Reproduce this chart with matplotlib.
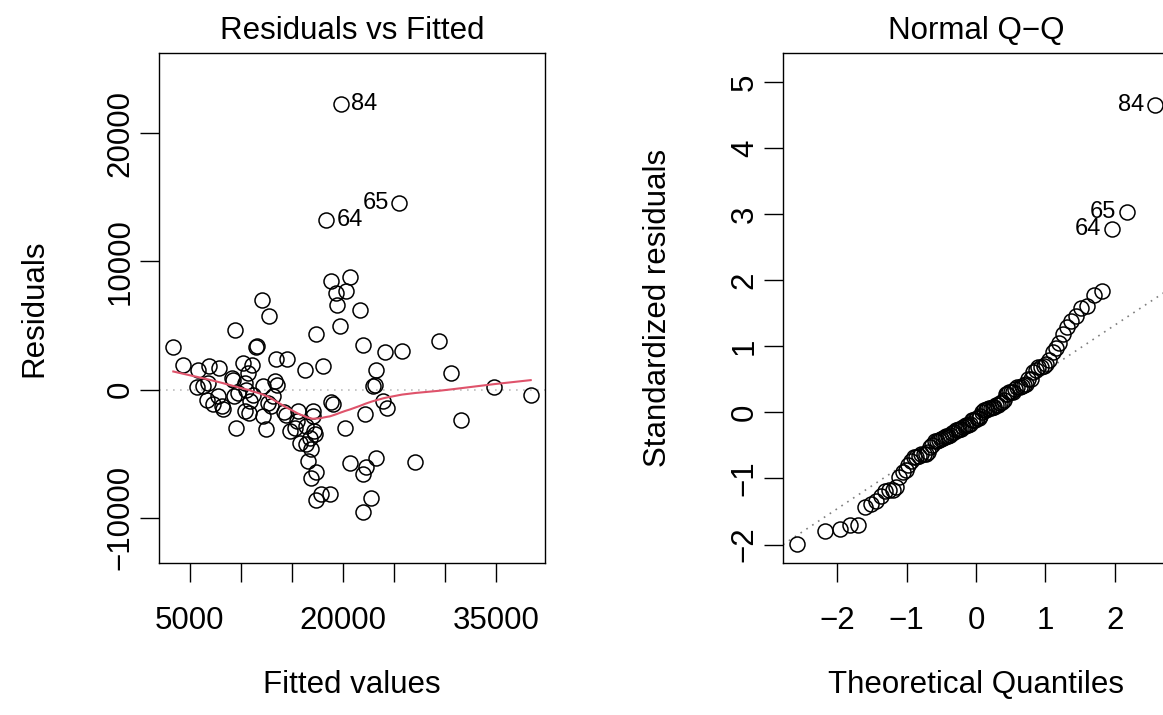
import math
import numpy as np
import matplotlib
matplotlib.use("Agg")
import matplotlib.pyplot as plt

# ---------------- data ----------------
fitted = [
    3370, 4350, 5820, 6890, 7870, 5650, 6310, 6800, 6630, 7770,
    8100, 8260, 9080, 9240, 9410, 9500, 9310, 9730, 10160, 10390,
    10480, 10710, 11040, 10390, 10810, 10880, 11200, 11460, 11530, 12020,
    12740, 12180, 12180, 12440, 12670, 12900, 13160, 13320, 13490, 13420,
    14530, 14240, 14400, 14790, 15280, 15610, 15450, 15770, 16260, 16360,
    16420, 16590, 16750, 16910, 16910, 17080, 17080, 17140, 17240, 17340,
    17400, 17340, 17800, 18380, 25500, 18060, 18710, 18870, 18870, 19040,
    19360, 19430, 19690, 20180, 20280, 20670, 20670, 21710, 21970, 21970,
    21970, 22140, 22230, 19790, 22790, 22950, 23150, 23210, 23210, 23930,
    24090, 24320, 25790, 27100, 29380, 30620, 31540, 34770, 38390, 7290,
]
residuals = [
    3300, 1900, 1510, 1870, 1690, 210, 260, 520, -830, -520,
    -1300, -1510, 910, 780, 4670, -2990, -520, -260, 2080, 520,
    0, 1300, 1950, -1640, -1820, -910, -390, 3300, 3380, 6960,
    5710, 310, -2080, -3120, -1040, -1300, -520, 700, 390, 2420,
    2420, -1770, -2000, -3250, -2990, -1690, -2470, -4160, 1510, -2860,
    -4290, -5580, -3770, -4670, -6880, -1690, -2080, -3250, -3510, 4360,
    -6440, -8600, -8180, 13250, 14540, 1820, -8130, 8490, -990, -1170,
    7530, 6620, 4990, -2990, 7710, 8780, -5710, 6180, 3510, -6620,
    -9530, -1900, -6030, 22260, -8450, 310, 390, 1510, -5380, -910,
    2910, -1430, 3040, -5640, 3790, 1300, -2390, 210, -390, -1170,
]
resid_se = 4780          # residual scale used for the standardized residuals
n_label = 3              # number of extreme points labelled (id.n)

fit_ticks = [5000, 10000, 15000, 20000, 25000, 30000, 35000]
fit_ticklabels = ["5000", "", "", "20000", "", "", "35000"]
res_ticks = [-10000, 0, 10000, 20000]
qx_ticks = [-2, -1, 0, 1, 2]
qy_ticks = [-2, -1, 0, 1, 2, 3, 4, 5]

# ---------------- helpers ----------------
def qnorm(p):
    lo, hi = -10.0, 10.0
    for _ in range(80):
        mid = 0.5 * (lo + hi)
        if 0.5 * (1 + math.erf(mid / math.sqrt(2))) < p:
            lo = mid
        else:
            hi = mid
    return 0.5 * (lo + hi)


def lowess(x, y, f=2 / 3, iters=3):
    x = np.asarray(x, float)
    y = np.asarray(y, float)
    o = np.argsort(x, kind="mergesort")
    x, y = x[o], y[o]
    n = len(x)
    ns = max(min(int(f * n + 1e-7), n), 2)
    rw = np.ones(n)
    ys = np.zeros(n)
    rng = x[-1] - x[0]
    for it in range(iters + 1):
        for i in range(n):
            d = np.abs(x - x[i])
            h = np.sort(d)[ns - 1]
            w = np.zeros(n)
            m = d <= 0.999 * h
            w[m] = np.where(d[m] <= 0.001 * h, 1.0, (1 - (d[m] / h) ** 3) ** 3)
            w = w * rw
            if w.sum() <= 0:
                ys[i] = y[i]
                continue
            w = w / w.sum()
            if h > 0:
                a = np.sum(w * x)
                b = x[i] - a
                c = np.sum(w * (x - a) ** 2)
                if np.sqrt(c) > 0.001 * rng:
                    b = b / c
                    w = w * (b * (x - a) + 1)
            ys[i] = np.sum(w * y)
        res = y - ys
        if it == iters:
            break
        cmad = 6 * np.median(np.abs(res))
        if cmad < 1e-7 * np.mean(np.abs(y)):
            break
        r = np.abs(res)
        rw = np.where(r <= 0.001 * cmad, 1.0,
                      np.where(r <= 0.999 * cmad, (1 - (r / cmad) ** 2) ** 2, 0.0))
    return x, ys


def rlim(lo, hi):
    d = (hi - lo) * 0.04
    return lo - d, hi + d


# ---------------- figure ----------------
plt.rcParams["font.family"] = ["Liberation Sans", "DejaVu Sans"]
FS = 22.5
W, H = 1163, 715
fig = plt.figure(figsize=(W / 100, H / 100), dpi=100)

L1, L2, PW = 159, 783, 386
TOP, BOT = 53, 563
ax1 = fig.add_axes([L1 / W, (H - BOT) / H, PW / W, (BOT - TOP) / H])
ax2 = fig.add_axes([L2 / W, (H - BOT) / H, PW / W, (BOT - TOP) / H])

x = np.array(fitted, float)
r = np.array(residuals, float)
n = len(r)
ids = np.arange(1, n + 1)
top_idx = np.argsort(-np.abs(r))[:n_label]

mk = dict(marker="o", ms=10.8, mfc="none", mec="black", mew=1.1, ls="none")

# ---- Residuals vs Fitted ----
ax1.plot(x, r, **mk, zorder=3)
ax1.axhline(0, color="#BEBEBE", lw=1.2, dashes=(1.0, 3.2), zorder=1)
lx, ly = lowess(x, r)
ax1.plot(lx, ly, color="#DF536B", lw=1.5, zorder=4)
xmid = 0.5 * (x.min() + x.max())
for i in top_idx:
    right = x[i] < xmid
    ax1.annotate(str(ids[i]), (x[i], r[i]), xytext=(7.5 if right else -7.5, 0),
                 textcoords="offset points", ha="left" if right else "right",
                 va="center", fontsize=17)
ax1.set_xlim(*rlim(x.min(), x.max()))
yl = (r.min(), r.max())
d = yl[1] - yl[0]
ax1.set_ylim(*rlim(yl[0] - 0.08 * d, yl[1] + 0.08 * d))
ax1.set_xticks(fit_ticks)
ax1.set_xticklabels(fit_ticklabels)
ax1.set_yticks(res_ticks)
ax1.set_title("Residuals vs Fitted", fontsize=FS, pad=10)
ax1.set_xlabel("Fitted values", fontsize=FS)
ax1.set_ylabel("Residuals", fontsize=FS)

# ---- Normal Q-Q ----
rs = r / resid_se
pp = (np.arange(1, n + 1) - 0.5) / n
tq_sorted = np.array([qnorm(p) for p in pp])
rank = np.argsort(np.argsort(rs, kind="mergesort"), kind="mergesort")
tq = tq_sorted[rank]
ax2.plot(tq, rs, **mk, zorder=3)
q1, q3 = np.quantile(rs, [0.25, 0.75])
z1, z3 = qnorm(0.25), qnorm(0.75)
slope = (q3 - q1) / (z3 - z1)
icpt = q1 - slope * z1
ax2.axline((0, icpt), slope=slope, color="#7F7F7F", lw=1.2, dashes=(1.0, 3.2), zorder=1)
for i in top_idx:
    ax2.annotate(str(ids[i]), (tq[i], rs[i]), xytext=(-7.5, 0),
                 textcoords="offset points", ha="right", va="center", fontsize=17)
ax2.set_xlim(*rlim(tq.min(), tq.max()))
ylq = [rs.min(), rs.max()]
ylq[1] = ylq[1] + (ylq[1] - ylq[0]) * 0.075
ax2.set_ylim(*rlim(*ylq))
ax2.set_xticks(qx_ticks)
ax2.set_yticks(qy_ticks)
ax2.set_title("Normal Q\u2212Q", fontsize=FS, pad=10)
ax2.set_xlabel("Theoretical Quantiles", fontsize=FS)
ax2.set_ylabel("Standardized residuals", fontsize=FS)

for ax in (ax1, ax2):
    for s in ax.spines.values():
        s.set_linewidth(1.0)
    ax.tick_params(direction="out", length=13.7, width=1.0, labelsize=FS, pad=17)
    ax.tick_params(axis="y", pad=3)
    for t in ax.get_yticklabels():
        t.set_rotation(90)
        t.set_va("center")
    ax.xaxis.set_label_coords(0.5, -0.21)
    ax.yaxis.set_label_coords(-0.285, 0.5)

fig.savefig("out.png", dpi=100)
